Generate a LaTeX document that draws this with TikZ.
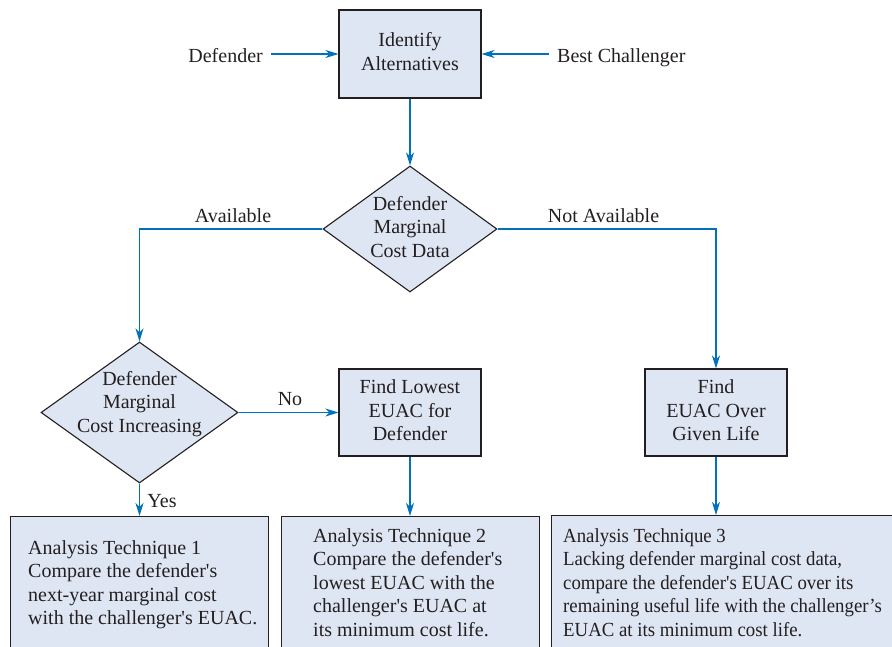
\documentclass[tikz,border=0pt]{standalone}
\usepackage{fontspec}
\setmainfont{Liberation Serif}
\usetikzlibrary{shapes.geometric,arrows.meta}

\definecolor{boxfill}{RGB}{223,230,243}
\definecolor{flowblue}{RGB}{0,114,188}
\definecolor{inkgray}{RGB}{35,31,32}

\newcommand{\sline}[1]{#1\strut}
\newcommand{\sq}{\textquotesingle}

\begin{document}
\begin{tikzpicture}[x=1pt,y=-1pt,
  every node/.style={font=\fontsize{20}{23.5}\selectfont, text=inkgray},
  procbox/.style={draw=inkgray, line width=1.1pt, fill=boxfill, rectangle,
    minimum width=142, minimum height=87, inner sep=0, align=center},
  decision/.style={draw=inkgray, line width=1.1pt, fill=boxfill, diamond,
    inner sep=0},
  resultbox/.style={draw=inkgray, line width=1.1pt, fill=boxfill, rectangle,
    anchor=north west, inner sep=0},
  bodytext/.style={anchor=north west, inner sep=0, align=left},
  label/.style={anchor=base, inner sep=0},
  flow/.style={draw=flowblue, line width=1.4pt,
    -{Stealth[length=13pt,width=8pt,inset=4pt]}}
]
\useasboundingbox (0,0) rectangle (892,646);
\clip (0,0) rectangle (892,646);

% top process and its two inputs
\node[procbox, minimum height=88] (ident) at (410,54)
  {\sline{Identify}\\\sline{Alternatives}};
\node[anchor=base east, inner xsep=8pt, inner ysep=0] (def) at (271,62) {Defender};
\node[anchor=base west, inner xsep=8pt, inner ysep=0] (best) at (549,62) {Best Challenger};

% first decision
\node[decision, minimum width=174, minimum height=126] (d1) at (410,229) {};
\node[align=center, inner sep=0] (d1t) at (410,229)
  {\sline{Defender}\\\sline{Marginal}\\\sline{Cost Data}};

% second decision
\node[decision, minimum width=197, minimum height=141] (d2) at (139.5,412.5) {};
\node[align=center, inner sep=0] (d2t) at (139.5,404)
  {\sline{Defender}\\\sline{Marginal}\\\sline{Cost Increasing}};

% middle-row processes
\node[procbox] (low) at (410,412.5)
  {\sline{Find Lowest}\\\sline{EUAC for}\\\sline{Defender}};
\node[procbox] (euac) at (716,412.5)
  {\sline{Find}\\\sline{EUAC Over}\\\sline{Given Life}};

% bottom result boxes
\node[resultbox, minimum width=258, minimum height=190] (a1) at (10,516) {};
\node[resultbox, minimum width=258, minimum height=190] (a2) at (281,516) {};
\node[resultbox, minimum width=360, minimum height=190] (a3) at (551,515) {};

\node[bodytext] (a1t) at (28,537.5)
  {\sline{Analysis Technique 1}\\\sline{Compare the defender\sq s}\\
   \sline{next-year marginal cost}\\\sline{with the challenger\sq s EUAC.}};
\node[bodytext] (a2t) at (313,525.5)
  {\sline{Analysis Technique 2}\\\sline{Compare the defender\sq s}\\
   \sline{lowest EUAC with the}\\\sline{challenger\sq s EUAC at}\\
   \sline{its minimum cost life.}};
\node[bodytext, font=\fontsize{20}{23.5}\selectfont\addfontfeature{FakeStretch=0.94}]
  (a3t) at (563,525.5)
  {\sline{Analysis Technique 3}\\\sline{Lacking defender marginal cost data,}\\
   \sline{compare the defender\sq s EUAC over its}\\
   \sline{remaining useful life with the challenger’s}\\
   \sline{EUAC at its minimum cost life.}};

% branch labels
\node[label] (lav) at (233,222) {Available};
\node[label] (lnav) at (603.5,222) {Not Available};
\node[label] (lno) at (290,405) {No};
\node[label] (lyes) at (162,507) {Yes};

% connectors
\draw[flow] (ident.west -| def.east) -- (ident.west);
\draw[flow] (ident.east -| best.west) -- (ident.east);
\draw[flow] (ident.south) -- (d1.north);
\draw[flow] (d1.west) -| (d2.north);
\draw[flow] (d1.east) -| (euac.north);
\draw[flow] (d2.east) -- (low.west);
\draw[flow] (d2.south) -- (d2.south |- a1.north);
\draw[flow] (low.south) -- (low.south |- a2.north);
\draw[flow] (euac.south) -- (euac.south |- a3.north);
\end{tikzpicture}
\end{document}
